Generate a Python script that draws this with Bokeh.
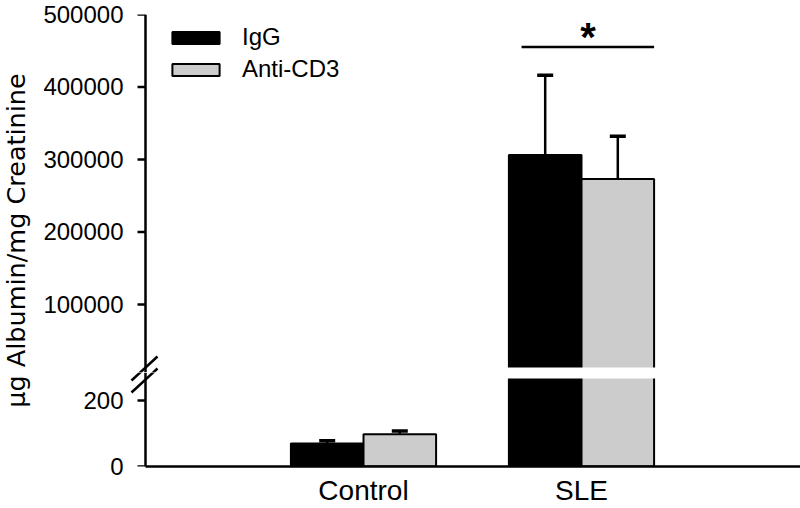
import numpy as np
from bokeh.plotting import figure
from bokeh.models import (ColumnDataSource, FixedTicker, Range1d, Legend, LegendItem,
                          Label, NumeralTickFormatter)
from bokeh.layouts import row, column
from bokeh.embed import file_html
from bokeh.resources import INLINE
from bokeh.core.properties import value

# ---------------- data ----------------
categories = ["Control", "SLE"]
series_names = ["IgG", "Anti-CD3"]
igg_mean = [70, 306000]
igg_err = [8, 110000]
anti_mean = [98, 273000]
anti_err = [10, 59000]
upper_ticks = [100000, 200000, 300000, 400000, 500000]
lower_ticks = [0, 200]
upper_segment = (12900, 500000)   # values shown above the axis break
lower_segment = (0, 267)          # values shown below the axis break
sig_level = 455000
y_title = "µg Albumin/mg Creatinine"

# ---------------- styles / layout (page pixels) ----------------
FONT = "Liberation Sans"
IGG_COLOR = "black"
ANTI_COLOR = "#cccccc"
BAR_W = 0.333
TITLE_W = 40
MAIN_W = 760
AXIS_PX = 145            # page x of the y axis line
FRAME_LEFT = 125         # frame starts a little left of the axis (room for break marks)
PAGE_R = 800
PX_PER_X = 218.0
X_RANGE = ((FRAME_LEFT - AXIS_PX) / PX_PER_X, (PAGE_R - AXIS_PX) / PX_PER_X)
TOP_PX = 14              # page y of top tick (500000)
GAP = (367, 378)         # page y of the white gap
SPLIT = 372              # page y where the two panels meet
ZERO_PX = 466            # page y of zero
TOTAL_H = 508
LOW_BB = TOTAL_H - ZERO_PX

# panel y ranges derived from the pixel geometry
up_scale = (upper_segment[1] - upper_segment[0]) / (GAP[0] - TOP_PX)
top_range = (upper_segment[0] - (SPLIT - GAP[0]) * up_scale, upper_segment[1])
lo_scale = (lower_segment[1] - lower_segment[0]) / (ZERO_PX - GAP[1])
low_range = (lower_segment[0], lower_segment[1] + (GAP[1] - SPLIT) * lo_scale)


def px_to_x(px):
    return (px - AXIS_PX) / PX_PER_X


def py_top(py):
    return upper_segment[0] + (GAP[0] - py) * up_scale


def py_low(py):
    return lower_segment[0] + (ZERO_PX - py) * lo_scale


xs = [i + 1 for i in range(len(categories))]


def make_source(xoff, means, errs, ymin, bar_floor, bar_ceiling):
    # bars are cut inside the white gap of the broken axis
    keep = [i for i, (m, e) in enumerate(zip(means, errs)) if m + e > ymin]
    return ColumnDataSource(dict(
        x=[xs[i] + xoff for i in keep],
        top=[min(means[i], bar_ceiling) for i in keep],
        bottom=[max(0, bar_floor) for i in keep],
        val=[means[i] for i in keep],
        err_top=[means[i] + errs[i] for i in keep],
    ))


def make_panel(h, yr, btop, bbot, xaxis, ticks, gap, bar_floor, bar_ceiling):
    p = figure(width=MAIN_W, height=h, x_range=Range1d(*X_RANGE), y_range=Range1d(*yr),
               output_backend="svg", toolbar_location=None, tools="",
               min_border_left=FRAME_LEFT - TITLE_W, min_border_right=0,
               min_border_top=btop, min_border_bottom=bbot,
               x_axis_location="below" if xaxis else None)
    p.outline_line_color = None
    p.grid.visible = False
    s_igg = make_source(-BAR_W / 2, igg_mean, igg_err, yr[0], bar_floor, bar_ceiling)
    s_anti = make_source(BAR_W / 2, anti_mean, anti_err, yr[0], bar_floor, bar_ceiling)
    r1 = p.vbar(x="x", top="top", bottom="bottom", width=BAR_W, source=s_igg,
                fill_color=IGG_COLOR, line_color="black", line_width=2)
    r2 = p.vbar(x="x", top="top", bottom="bottom", width=BAR_W, source=s_anti,
                fill_color=ANTI_COLOR, line_color="black", line_width=2)
    for s in (s_igg, s_anti):
        p.segment(x0="x", y0="val", x1="x", y1="err_top", source=s,
                  line_color="black", line_width=2.5)
        p.scatter(x="x", y="err_top", source=s, marker="dash", size=16,
                  line_color="black", line_width=3.5)
    # white gap of the broken axis
    p.quad(left=[X_RANGE[0] - 1], right=[X_RANGE[1] + 1], bottom=[gap[0]], top=[gap[1]],
           fill_color="white", line_color=None)
    # y axis: labels from the real axis, line and ticks drawn on the same scale
    ax = p.yaxis[0]
    ax.ticker = FixedTicker(ticks=ticks)
    ax.formatter = NumeralTickFormatter(format="0")
    ax.axis_line_color = None
    ax.major_tick_line_color = None
    ax.major_tick_out = 0
    ax.major_tick_in = 0
    ax.minor_tick_out = 0
    ax.minor_tick_in = 0
    ax.major_label_text_font = FONT
    ax.major_label_text_font_size = "24px"
    ax.major_label_text_color = "black"
    ax.major_label_standoff = 2
    p.segment(x0=[0], y0=[yr[0]], x1=[0], y1=[yr[1]], line_color="black", line_width=2.5)
    p.segment(x0=[px_to_x(AXIS_PX - 8)] * len(ticks), y0=ticks,
              x1=[0] * len(ticks), y1=ticks, line_color="black", line_width=2.5)
    return p, r1, r2


big = 1e12
top, r_igg, r_anti = make_panel(SPLIT, top_range, TOP_PX, 0, False, upper_ticks,
                                (-big, upper_segment[0]), py_top(370), big)
low, _, _ = make_panel(TOTAL_H - SPLIT, low_range, 0, LOW_BB, True, lower_ticks,
                       (lower_segment[1], big), 0, py_low(375))

xa = low.xaxis[0]
xa.bounds = (0, X_RANGE[1])
xa.ticker = FixedTicker(ticks=xs)
xa.major_label_overrides = {x: c for x, c in zip(xs, categories)}
xa.axis_line_width = 2.5
xa.axis_line_color = "black"
xa.major_tick_out = 0
xa.major_tick_in = 0
xa.minor_tick_out = 0
xa.minor_tick_in = 0
xa.major_label_text_font = FONT
xa.major_label_text_font_size = "28px"
xa.major_label_text_color = "black"
xa.major_label_standoff = 8

# legend
legend = Legend(items=[LegendItem(label=series_names[0], renderers=[r_igg]),
                       LegendItem(label=series_names[1], renderers=[r_anti])],
                location=(41, 289), glyph_width=59, glyph_height=15,
                label_standoff=17, spacing=4, padding=0, margin=0,
                border_line_color=None, background_fill_alpha=0,
                label_text_font=FONT, label_text_font_size="24px",
                label_text_color="black")
top.add_layout(legend)

# significance bar
sle_x = xs[categories.index("SLE")]
top.segment(x0=[sle_x - 0.275], y0=[sig_level], x1=[sle_x + BAR_W], y1=[sig_level],
            line_color="black", line_width=2.5)
top.text(x=[sle_x + 0.03], y=[sig_level], text=["*"], text_font=value(FONT),
         text_font_style="bold", text_font_size="40px", text_align="center",
         text_baseline="alphabetic", y_offset=-10, text_color="black")

# axis break marks "//" (page pixel geometry), drawn on both panels
break_marks = [((131, 380), (157, 356)), ((131, 392), (157, 368))]
for p, conv in ((top, py_top), (low, py_low)):
    p.segment(x0=[px_to_x(a[0]) for a, b in break_marks],
              y0=[conv(a[1]) for a, b in break_marks],
              x1=[px_to_x(b[0]) for a, b in break_marks],
              y1=[conv(b[1]) for a, b in break_marks],
              line_color="black", line_width=2.5)

# y-axis title panel
tp = figure(width=TITLE_W, height=TOTAL_H, x_range=Range1d(0, 1), y_range=Range1d(0, 1),
            output_backend="svg", toolbar_location=None, tools="",
            x_axis_location=None, y_axis_location=None, min_border=0)
tp.outline_line_color = None
tp.grid.visible = False
tp.add_layout(Label(x=15.5 / TITLE_W, y=(TOTAL_H - 240) / TOTAL_H,
                    text=y_title, angle=np.pi / 2, text_align="center",
                    text_baseline="middle", text_font="DejaVu Sans",
                    text_font_size="25.5px", text_color="black"))

layout = row(tp, column(top, low, spacing=0), spacing=0)
open("out.html", "w").write(file_html(layout, INLINE))
